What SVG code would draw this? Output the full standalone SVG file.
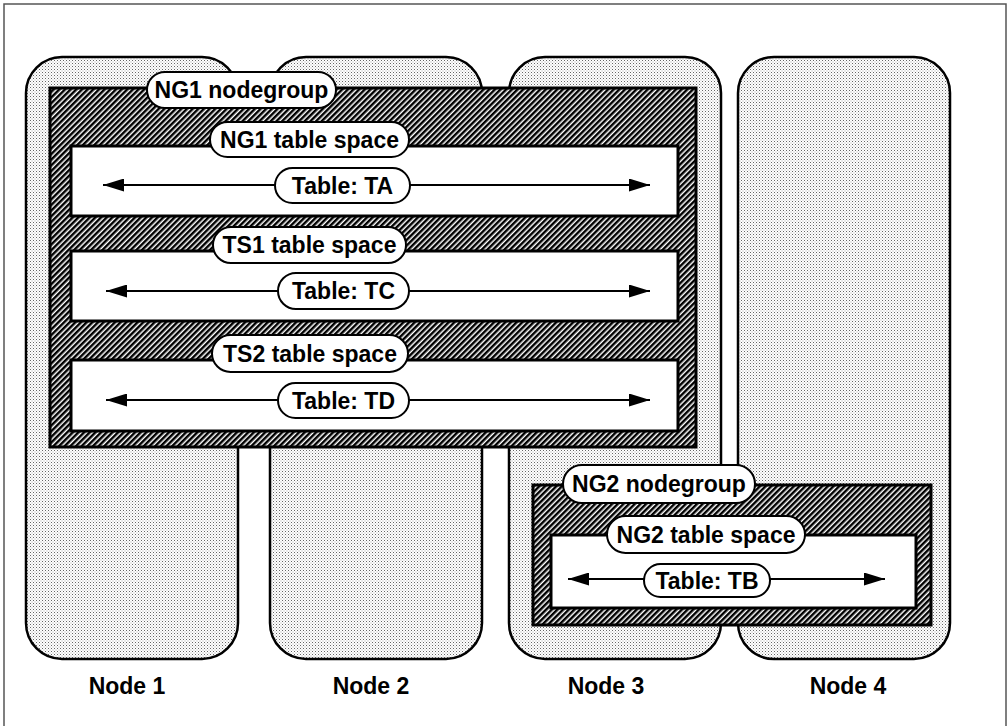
<svg xmlns="http://www.w3.org/2000/svg" width="1008" height="726" viewBox="0 0 1008 726">
<defs>
<pattern id="dots" width="3" height="3" patternUnits="userSpaceOnUse">
<rect width="3" height="3" fill="#ffffff"/>
<rect x="0" y="0" width="1" height="1" fill="#666666"/>
<rect x="1.5" y="1.5" width="1" height="1" fill="#aaaaaa"/>
</pattern>
<pattern id="hatch" width="4" height="4" patternUnits="userSpaceOnUse" patternTransform="rotate(45)">
<rect width="4" height="4" fill="#ffffff"/>
<rect x="0" y="0" width="2.5" height="4" fill="#000000"/>
</pattern>
<marker id="arr" viewBox="0 0 21 13" refX="21" refY="6.5" markerWidth="21" markerHeight="13" markerUnits="userSpaceOnUse" orient="auto">
<polygon points="0,0 21,6.5 0,13" fill="#000"/>
</marker>
</defs>
<style>
.node{fill:url(#dots);stroke:#000;stroke-width:2.5}
.ng{fill:url(#hatch);stroke:#000;stroke-width:3}
.ts{fill:#fff;stroke:#000;stroke-width:3}
.pill{fill:#fff;stroke:#000;stroke-width:2}
.t{font-family:"Liberation Sans",Arial,sans-serif;font-weight:bold;font-size:23px;fill:#000;text-anchor:middle}
.ln{stroke:#000;stroke-width:2;fill:none;marker-end:url(#arr)}
</style>
<rect x="4" y="4" width="1002" height="740" fill="#fff" stroke="#555" stroke-width="1.5"/>
<g id="node1"><rect class="node" x="26" y="57" width="212" height="602" rx="36"/><text class="t" x="127" y="694">Node 1</text></g>
<g id="node2"><rect class="node" x="270" y="57" width="212" height="602" rx="36"/><text class="t" x="371" y="694">Node 2</text></g>
<g id="node3"><rect class="node" x="509" y="57" width="212" height="602" rx="36"/><text class="t" x="606" y="694">Node 3</text></g>
<g id="node4"><rect class="node" x="738" y="57" width="212" height="602" rx="36"/><text class="t" x="848" y="694">Node 4</text></g>
<g id="ng1">
<rect class="ng" x="50" y="88" width="646" height="359"/>
<g id="ng1ts"><rect class="ts" x="71" y="146" width="607" height="70"/></g>
<g id="ts1"><rect class="ts" x="71" y="251" width="607" height="70"/></g>
<g id="ts2"><rect class="ts" x="71" y="360" width="607" height="71"/></g>
</g>
<g id="ng2">
<rect class="ng" x="533" y="485" width="398" height="140"/>
<g id="ng2ts"><rect class="ts" x="551" y="535" width="365" height="73"/></g>
</g>
<g id="connectors">
<line class="ln" x1="275" y1="185" x2="103" y2="185"/>
<line class="ln" x1="410" y1="185" x2="650" y2="185"/>
<line class="ln" x1="278" y1="291" x2="106" y2="291"/>
<line class="ln" x1="409" y1="291" x2="650" y2="291"/>
<line class="ln" x1="278" y1="400" x2="106" y2="400"/>
<line class="ln" x1="409" y1="400" x2="650" y2="400"/>
<line class="ln" x1="644" y1="579" x2="568" y2="579"/>
<line class="ln" x1="770" y1="579" x2="885" y2="579"/>
</g>
<g id="lbl-ng1"><rect class="pill" x="147" y="72" width="189" height="36" rx="18"/><text class="t" x="241.5" y="98">NG1 nodegroup</text></g>
<g id="lbl-ng1ts"><rect class="pill" x="210" y="122" width="199" height="35" rx="17.5"/><text class="t" x="309.5" y="148">NG1 table space</text></g>
<g id="lbl-ta"><rect class="pill" x="275" y="168" width="135" height="35" rx="17.5"/><text class="t" x="342.5" y="194">Table: TA</text></g>
<g id="lbl-ts1"><rect class="pill" x="213" y="227" width="193" height="36" rx="18"/><text class="t" x="309.5" y="253">TS1 table space</text></g>
<g id="lbl-tc"><rect class="pill" x="278" y="273" width="131" height="36" rx="18"/><text class="t" x="343.5" y="299">Table: TC</text></g>
<g id="lbl-ts2"><rect class="pill" x="212" y="335" width="196" height="37" rx="18.5"/><text class="t" x="310" y="362">TS2 table space</text></g>
<g id="lbl-td"><rect class="pill" x="278" y="383" width="131" height="35" rx="17.5"/><text class="t" x="343.5" y="409">Table: TD</text></g>
<g id="lbl-ng2"><rect class="pill" x="563" y="465" width="192" height="38" rx="19"/><text class="t" x="659" y="492">NG2 nodegroup</text></g>
<g id="lbl-ng2ts"><rect class="pill" x="607" y="516" width="198" height="37" rx="18.5"/><text class="t" x="706" y="543">NG2 table space</text></g>
<g id="lbl-tb"><rect class="pill" x="644" y="564" width="126" height="33" rx="16.5"/><text class="t" x="707" y="589">Table: TB</text></g>
</svg>
